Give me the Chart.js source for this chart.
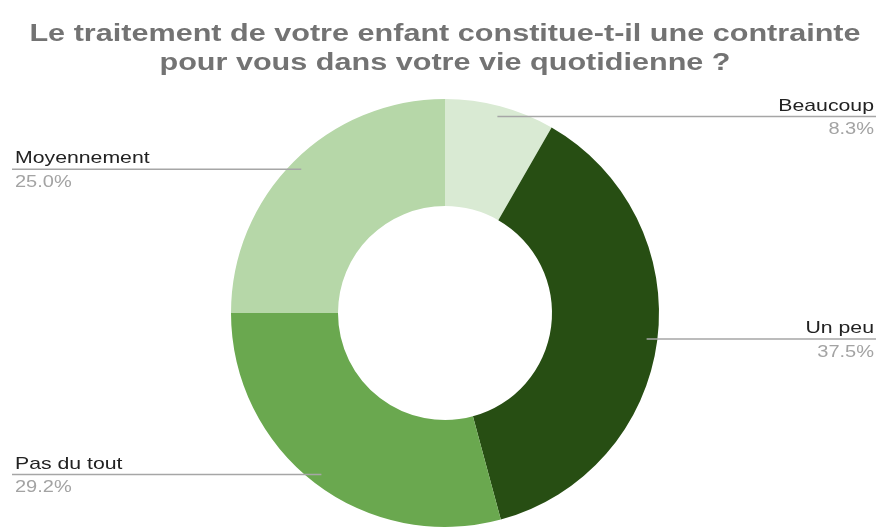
<!DOCTYPE html>
<html>
<head>
<meta charset="utf-8">
<script src="https://cdn.jsdelivr.net/npm/chart.js@4"></script>
<style>
  html, body { margin: 0; padding: 0; background: #fff; }
  #wrap { width: 876px; height: 532px; }
</style>
</head>
<body>
<div id="wrap"><canvas id="chart_donut"></canvas></div>
<script>
/* answers (in %) */
var categories = ['Beaucoup', 'Un peu', 'Pas du tout', 'Moyennement'];
var shares = [8.3, 37.5, 29.2, 25.0];
var sliceColors = ['#d9ead3', '#274e13', '#6aa84f', '#b6d7a8'];
var titleLines = [
  'Le traitement de votre enfant constitue-t-il une contrainte',
  'pour vous dans votre vie quotidienne ?'
];

var FONT = '"Liberation Sans", Arial, sans-serif';

// text drawn a bit wider than the font's natural width
function wideText(ctx, text, x, y, align, sx) {
  var w = ctx.measureText(text).width * sx;
  var left = align === 'right' ? x - w : (align === 'center' ? x - w / 2 : x);
  ctx.save();
  ctx.textAlign = 'left';
  ctx.translate(left, y);
  ctx.scale(sx, 1);
  ctx.fillText(text, 0, 0);
  ctx.restore();
}

/* =========== title ================= */
var wideTitle = {
  id: 'wideTitle',
  afterDraw: function(chart) {
    var ctx = chart.ctx;
    var cx = (chart.chartArea.left + chart.chartArea.right) / 2;
    ctx.save();
    ctx.font = 'bold 23px ' + FONT;
    ctx.fillStyle = '#737373';
    ctx.textBaseline = 'middle';
    titleLines.forEach(function(line, i) {
      wideText(ctx, line, cx, 35 + i * 29, 'center', 1.33);
    });
    ctx.restore();
  }
};

/* =========== leader lines + outside labels ================= */
var sideLabels = {
  id: 'sideLabels',
  afterDatasetsDraw: function(chart) {
    var ctx = chart.ctx;
    var meta = chart.getDatasetMeta(0);
    var W = chart.width;
    meta.data.forEach(function(arc, i) {
      var mid = (arc.startAngle + arc.endAngle) / 2;
      var r = arc.outerRadius * 0.95;
      var px = arc.x + Math.cos(mid) * r;
      var py = arc.y + Math.sin(mid) * r;
      var right = Math.cos(mid) > 0;
      var endX = right ? W : 12;

      ctx.save();
      ctx.strokeStyle = '#a6a6a6';
      ctx.lineWidth = 1.5;
      ctx.beginPath();
      ctx.moveTo(px, py);
      ctx.lineTo(endX, py);
      ctx.stroke();

      var align = right ? 'right' : 'left';
      var tx = right ? W - 2 : 15;
      ctx.font = '17px ' + FONT;
      ctx.fillStyle = '#222';
      ctx.textBaseline = 'bottom';
      wideText(ctx, categories[i], tx, py - 2, align, 1.25);
      ctx.font = '16px ' + FONT;
      ctx.fillStyle = '#a3a3a3';
      ctx.textBaseline = 'top';
      wideText(ctx, shares[i].toFixed(1) + '%', tx, py + 5, align, 1.25);
      ctx.restore();
    });
  }
};

var ctx1 = document.getElementById('chart_donut');
var chart_donut = new Chart(ctx1, {
  type: 'doughnut',
  data: {
    labels: categories,
    datasets: [{
      data: shares,
      backgroundColor: sliceColors,
      borderWidth: 0,
      hoverOffset: 0,
      offset: 0
    }]
  },
  options: {
    responsive: true,
    maintainAspectRatio: false,
    animation: false,
    cutout: '50%',
    layout: { padding: { left: 14, right: 0, top: 99, bottom: 5 } },
    plugins: {
      legend: { display: false },
      tooltip: { enabled: false },
      title: { display: false }
    }
  },
  plugins: [sideLabels, wideTitle]
});
</script>
</body>
</html>
